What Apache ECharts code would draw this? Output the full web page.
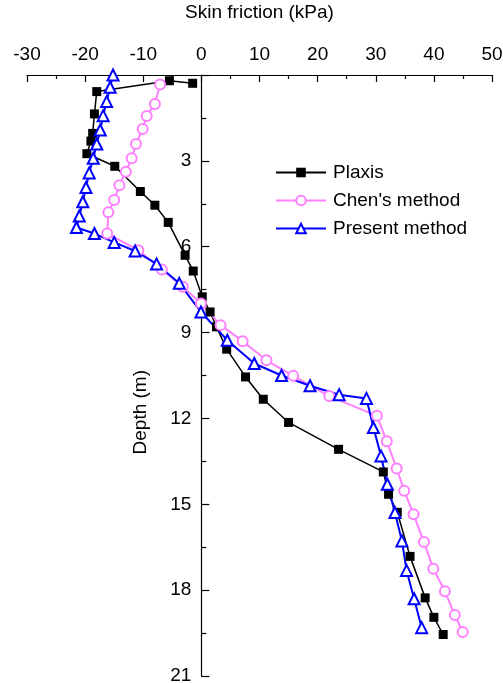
<!DOCTYPE html>
<html>
<head>
<meta charset="utf-8">
<script src="https://cdn.jsdelivr.net/npm/echarts@6/dist/echarts.min.js"></script>
<style>
  html, body { margin: 0; padding: 0; background: #fff; }
  #chart { width: 503px; height: 683px; }
</style>
</head>
<body>
<div id="chart"></div>
<script>
// Plaxis
const plaxisDepth = [0.29, 0.2, 0.58, 1.36, 2.04, 2.31, 2.75, 3.19, 4.07, 4.55, 5.15, 6.3, 6.85, 7.75, 8.28, 8.8, 9.58, 10.55, 11.33, 12.14, 13.08, 13.87, 14.65, 15.28, 16.82, 18.27, 18.95, 19.55];
const plaxisFriction = [-1.5, -5.5, -18.0, -18.4, -18.7, -19.0, -19.7, -14.9, -10.5, -8.0, -5.7, -2.8, -1.4, 0.15, 1.5, 2.6, 4.35, 7.6, 10.65, 15.0, 23.6, 31.3, 32.2, 33.7, 35.9, 38.5, 40.0, 41.6];

// Chen's method
const chenDepth = [0.33, 1.01, 1.43, 1.89, 2.41, 2.91, 3.38, 3.85, 4.37, 4.8, 5.54, 6.12, 6.8, 7.4, 7.98, 8.74, 9.3, 9.97, 10.51, 11.22, 11.91, 12.8, 13.75, 14.53, 15.35, 16.32, 17.25, 18.04, 18.87, 19.46];
const chenFriction = [-7.1, -8.0, -9.4, -10.1, -11.25, -12.0, -13.0, -14.1, -15.0, -16.0, -16.2, -10.85, -6.8, -3.2, -0.07, 3.3, 7.1, 11.2, 15.8, 22.0, 30.2, 31.9, 33.6, 34.9, 36.5, 38.3, 39.9, 41.9, 43.6, 44.95];

// Present method
const presentDepth = [0.0, 0.43, 0.93, 1.42, 1.92, 2.41, 2.91, 3.42, 3.93, 4.43, 4.93, 5.33, 5.54, 5.85, 6.15, 6.6, 7.28, 8.28, 9.27, 10.08, 10.5, 10.86, 11.17, 11.3, 12.32, 13.31, 14.3, 15.29, 16.28, 17.31, 18.3, 19.31];
const presentFriction = [-15.2, -15.7, -16.3, -16.9, -17.4, -18.0, -18.6, -19.3, -19.85, -20.4, -21.0, -21.5, -18.4, -15.0, -11.4, -7.7, -3.8, -0.07, 4.46, 9.1, 13.8, 18.7, 23.7, 28.4, 29.6, 30.9, 32.0, 33.3, 34.5, 35.3, 36.6, 37.9];

const xTicks = [-30, 50, 10];
const yTicks = [0, 21, 3];

function pairs(xs, ys) {
    let out = [];
    for (let i = 0; i < xs.length; i++) {
        out.push([xs[i], ys[i]]);
    }
    return out;
}

const font = 'Liberation Sans, Arial, sans-serif';
const gridLeft = 27, gridRight = 11;
// y axis sits on x = 0, shift it in from the grid's left edge
const plotWidth = 503 - gridLeft - gridRight;
const yOffset = -plotWidth * (0 - xTicks[0]) / (xTicks[1] - xTicks[0]);

const chart = echarts.init(document.getElementById('chart'));

chart.setOption({
    animation: false,
    textStyle: { fontFamily: font, color: '#000' },
    grid: { left: gridLeft, right: gridRight, top: 75, bottom: 7, containLabel: false, outerBoundsMode: 'none' },
    legend: {
        orient: 'vertical',
        left: 275,
        top: 163,
        padding: 0,
        itemWidth: 50,
        itemHeight: 12,
        itemGap: 9,
        textStyle: { fontSize: 19, fontFamily: font, color: '#000', padding: [0, 0, 0, 2] },
        data: ['Plaxis', "Chen's method", 'Present method']
    },
    xAxis: {
        type: 'value',
        position: 'top',
        min: xTicks[0],
        max: xTicks[1],
        interval: xTicks[2],
        name: 'Skin friction (kPa)',
        nameLocation: 'middle',
        nameGap: 53,
        nameTextStyle: { fontSize: 19, fontFamily: font, color: '#000' },
        axisLine: { onZero: false, lineStyle: { color: '#000', width: 1.2 } },
        axisTick: { inside: true, length: 7, lineStyle: { color: '#000', width: 1.2 } },
        minorTick: { show: true, splitNumber: 2, length: 4, lineStyle: { color: '#000', width: 1.2 } },
        axisLabel: { fontSize: 19, color: '#000', margin: 11, fontFamily: font },
        splitLine: { show: false }
    },
    yAxis: {
        type: 'value',
        inverse: true,
        min: yTicks[0],
        max: yTicks[1],
        interval: yTicks[2],
        offset: yOffset,
        axisLine: { onZero: false, lineStyle: { color: '#000', width: 1.2 } },
        axisTick: { inside: true, length: 8, lineStyle: { color: '#000', width: 1.2 } },
        minorTick: { show: true, splitNumber: 2, length: 5, lineStyle: { color: '#000', width: 1.2 } },
        axisLabel: { fontSize: 19, color: '#000', margin: 10, fontFamily: font, showMinLabel: false },
        splitLine: { show: false }
    },
    graphic: [{
        type: 'text',
        left: 131,
        top: 370,
        rotation: Math.PI / 2,
        style: { text: 'Depth (m)', fontSize: 19, fontFamily: font, fill: '#000' }
    }],
    series: [
        {
            name: 'Plaxis',
            type: 'line',
            data: pairs(plaxisFriction, plaxisDepth),
            symbol: 'rect',
            symbolSize: 9,
            itemStyle: { color: '#000' },
            lineStyle: { color: '#000', width: 1.5 }
        },
        {
            name: "Chen's method",
            type: 'line',
            data: pairs(chenFriction, chenDepth),
            symbol: 'emptyCircle',
            symbolSize: 10,
            itemStyle: { color: '#ff80ff', borderWidth: 1.5 },
            lineStyle: { color: '#ff80ff', width: 2 }
        },
        {
            name: 'Present method',
            type: 'line',
            data: pairs(presentFriction, presentDepth),
            symbol: 'emptyTriangle',
            symbolSize: 11,
            itemStyle: { color: '#0000ff', borderWidth: 1.5 },
            lineStyle: { color: '#0000ff', width: 2 }
        }
    ]
});
</script>
</body>
</html>
